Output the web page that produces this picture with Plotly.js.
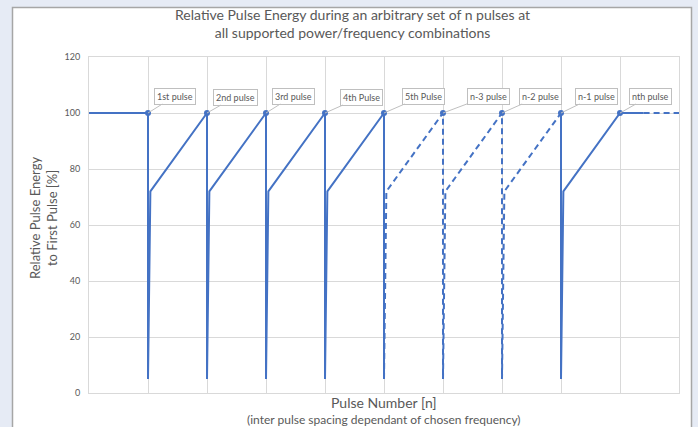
<!DOCTYPE html>
<html>
<head>
<meta charset="utf-8">
<script src="https://cdn.plot.ly/plotly-3.0.1.min.js"></script>
<style>html,body{margin:0;padding:0;background:#e6ebf5;}#chart{width:698px;height:427px;}</style>
</head>
<body>
<div id="chart"></div>
<script>
// ---- data ----
const solidX1 = [0, 1, 1, 1.04, 2, 2, 2.04, 3, 3, 3.04, 4, 4, 4.04, 5, 5];
const solidY1 = [100, 100, 5, 72, 100, 5, 72, 100, 5, 72, 100, 5, 72, 100, 5];
const dashX1 = [5, 5.04, 6, 6, 6.04, 7, 7, 7.04, 8];
const dashY1 = [5, 72, 100, 5, 72, 100, 5, 72, 100];
const solidX2 = [8, 8, 8.04, 9, 9.4];
const solidY2 = [100, 5, 72, 100, 100];
const dashX2 = [9.4, 10];
const dashY2 = [100, 100];
const pulseX = [1, 2, 3, 4, 5, 6, 7, 8, 9];
const pulseY = [100, 100, 100, 100, 100, 100, 100, 100, 100];
const pulseLabels = ['1st pulse', '2nd pulse', '3rd pulse', '4th Pulse', '5th Pulse', 'n-3 pulse', 'n-2 pulse', 'n-1 pulse', 'nth pulse'];
const yTicks = [0, 20, 40, 60, 80, 100, 120];

// ---- styles ----
const blue = '#4472C4';
const grey = '#595959';
const FONT = 'Lato, "Open Sans", sans-serif';
const labelOffsetX = [27, 28, 27, 36, 39, 45, 38, 35, 30];
const labelOffsetY = [-17, -16, -17, -16, -17, -17, -17, -17, -17];

const traces = [
  {x: solidX1, y: solidY1, mode: 'lines', line: {color: blue, width: 2}, hoverinfo: 'skip'},
  {x: dashX1, y: dashY1, mode: 'lines', line: {color: blue, width: 2, dash: '6px,4px'}, hoverinfo: 'skip'},
  {x: solidX2, y: solidY2, mode: 'lines', line: {color: blue, width: 2}, hoverinfo: 'skip'},
  {x: dashX2, y: dashY2, mode: 'lines', line: {color: blue, width: 2, dash: '6px,4px'}, hoverinfo: 'skip'},
  {x: pulseX, y: pulseY, mode: 'markers', marker: {color: blue, size: 6}, hoverinfo: 'skip'}
];

const L = 89, R = 679, T = 57, B = 393, W = 698, H = 427;
const pw = R - L, ph = B - T;
const px = v => (v - L) / pw;
const py = v => (B - v) / ph;

const annotations = pulseLabels.map((t, i) => ({
  x: pulseX[i], y: pulseY[i], xref: 'x', yref: 'y', text: t,
  showarrow: true, arrowhead: 0, arrowwidth: 1, arrowcolor: '#bfbfbf',
  ax: labelOffsetX[i], ay: labelOffsetY[i],
  bgcolor: '#ffffff', bordercolor: '#bfbfbf', borderwidth: 1, borderpad: 2,
  font: {family: FONT, size: 9, color: grey}
}));

annotations.push(
  {xref: 'paper', yref: 'paper', x: px(352), y: py(24), text: 'Relative Pulse Energy during an arbitrary set of n pulses at<br>all supported power/frequency combinations',
   showarrow: false, xanchor: 'center', yanchor: 'middle', font: {family: FONT, size: 14, color: grey}},
  {xref: 'paper', yref: 'paper', x: px(43), y: py(218), text: 'Relative Pulse Energy<br>to First Pulse [%]', textangle: -90,
   showarrow: false, xanchor: 'center', yanchor: 'middle', font: {family: FONT, size: 13, color: grey}},
  {xref: 'paper', yref: 'paper', x: px(384), y: py(403), text: 'Pulse Number [n]',
   showarrow: false, xanchor: 'center', yanchor: 'middle', font: {family: FONT, size: 14, color: grey}},
  {xref: 'paper', yref: 'paper', x: px(384), y: py(419), text: '(inter pulse spacing dependant of chosen frequency)',
   showarrow: false, xanchor: 'center', yanchor: 'middle', font: {family: FONT, size: 12, color: grey}}
);

const layout = {
  width: W, height: H,
  margin: {l: L, r: W - R, t: T, b: H - B, pad: 0},
  paper_bgcolor: '#e6ebf5',
  plot_bgcolor: '#ffffff',
  showlegend: false,
  xaxis: {range: [0, 10], dtick: 1, tick0: 0, showticklabels: false, showgrid: true, gridcolor: '#d9d9d9', gridwidth: 1,
          zeroline: false, showline: true, mirror: true, linecolor: '#d9d9d9', linewidth: 1, ticks: '', fixedrange: true},
  yaxis: {range: [0, 120], tickvals: yTicks, ticktext: yTicks.map(String), showgrid: true, gridcolor: '#d9d9d9', gridwidth: 1,
          zeroline: false, showline: true, mirror: true, linecolor: '#d9d9d9', linewidth: 1,
          ticks: 'outside', ticklen: 6, tickcolor: 'rgba(0,0,0,0)', tickfont: {family: FONT, size: 9, color: grey}, fixedrange: true},
  shapes: [
    {type: 'rect', xref: 'paper', yref: 'paper', x0: px(12.5), x1: px(691.5), y0: py(440), y1: py(7.5),
     fillcolor: '#ffffff', line: {color: '#a6a6a6', width: 1.5}, layer: 'below'}
  ],
  annotations: annotations
};

Plotly.newPlot('chart', traces, layout, {displayModeBar: false, staticPlot: true});
</script>
</body>
</html>
